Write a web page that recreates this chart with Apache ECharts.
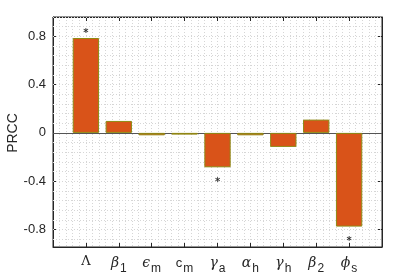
<!DOCTYPE html>
<html><head><meta charset="utf-8">
<script src="https://cdn.jsdelivr.net/npm/echarts@6/dist/echarts.min.js"></script>
<style>html,body{margin:0;padding:0;background:#fff}#c{width:407px;height:279px}</style>
</head><body><div id="c"></div>
<script>
// categories: [greek symbol, subscript]
var categories = ['Λ', 'β|1', 'ϵ|m', 'c|m', 'γ|a', 'α|h', 'γ|h', 'β|2', 'ϕ|s'];
var prccValues = [0.786, 0.099, -0.020, -0.014, -0.285, -0.020, -0.116, 0.110, -0.776];
var starValues = [0.847, null, null, null, -0.387, null, null, null, -0.872];
var yTickValues = [-0.8, -0.4, 0, 0.4, 0.8];
var yTickLabels = ['-0.8', '-0.4', '0', '0.4', '0.8'];
var yAxisTitle = 'PRCC';
var yMin = -0.945, yMax = 0.96;

var axisColor = '#262626';
var gridColor = '#d6d6d6';
var cats = [''].concat(categories).concat(['']);
var barData = [null].concat(prccValues).concat([null]);
var starData = [null].concat(starValues).concat([null]);
var minorY = [];
for (var k = -11; k <= 12; k++) minorY.push({yAxis: Math.round(k * 0.08 * 100) / 100});

function catLabel(v) {
  if (!v) return '';
  var p = v.split('|');
  if (p.length === 1) return '{u|' + p[0] + '}';
  if (p[0] === 'c') return '{c|c}{s|' + p[1] + '}';
  return '{g|' + p[0] + '}{s|' + p[1] + '}';
}

var chart = echarts.init(document.getElementById('c'), null, {renderer: 'canvas'});
chart.setOption({
  animation: false,
  backgroundColor: '#fff',
  graphic: [{type: 'text', x: 13, y: 133, rotation: Math.PI / 2,
    style: {text: yAxisTitle, fill: axisColor, font: '14px "Liberation Sans"', textAlign: 'center', textVerticalAlign: 'middle'}}],
  grid: {left: 53, right: 25, top: 17, bottom: 32, containLabel: false, outerBoundsMode: 'none',
         show: true, borderColor: axisColor, borderWidth: 1, backgroundColor: 'transparent'},
  xAxis: [
    {type: 'category', data: cats, boundaryGap: false, position: 'bottom',
     axisLine: {show: true, onZero: false, lineStyle: {color: axisColor, width: 1}},
     axisTick: {show: true, inside: true, length: 4, interval: 0, lineStyle: {color: axisColor}},
     splitLine: {show: false},
     axisLabel: {interval: 0, margin: 8, color: axisColor, formatter: catLabel,
       rich: {
         u: {fontFamily: 'DejaVu Serif', fontSize: 13, color: axisColor, padding: [0, 0, 4, 0]},
         g: {fontFamily: 'DejaVu Serif', fontStyle: 'italic', fontSize: 14, color: axisColor, padding: [0, 0, 4, 0]},
         c: {fontFamily: 'Liberation Sans', fontSize: 13, color: axisColor, padding: [0, 0, 4, 0]},
         s: {fontFamily: 'Liberation Sans', fontSize: 12, color: axisColor, padding: [8, 0, 0, 1]}
       }}},
    {type: 'category', data: cats, boundaryGap: false, position: 'top',
     axisLine: {show: true, onZero: false, lineStyle: {color: axisColor, width: 1}},
     axisTick: {show: true, inside: true, length: 4, interval: 0, lineStyle: {color: axisColor}},
     axisLabel: {show: false}, splitLine: {show: false}},
    {type: 'value', min: 0, max: 10, interval: 0.2, show: true, position: 'bottom',
     axisLine: {show: false, onZero: false}, axisTick: {show: false}, axisLabel: {show: false},
     splitLine: {show: true, lineStyle: {color: gridColor, type: [1, 2], width: 1}}}
  ],
  yAxis: [
    {type: 'value', min: yMin, max: yMax, position: 'left',
     axisLine: {show: true, onZero: false, lineStyle: {color: axisColor}},
     axisTick: {show: true, inside: true, length: 4, customValues: yTickValues, lineStyle: {color: axisColor}},
     axisLabel: {customValues: yTickValues, margin: 7, fontFamily: 'Liberation Sans', fontSize: 13, color: axisColor,
       formatter: function (v) { var i = yTickValues.indexOf(Math.round(v * 10) / 10); return i >= 0 ? yTickLabels[i] : ''; }},
     splitLine: {show: false}},
    {type: 'value', min: yMin, max: yMax, position: 'right',
     axisLine: {show: true, onZero: false, lineStyle: {color: axisColor}},
     axisTick: {show: true, inside: true, length: 4, customValues: yTickValues, lineStyle: {color: axisColor}},
     axisLabel: {show: false}, splitLine: {show: false}}
  ],
  series: [
    {type: 'line', xAxisIndex: 0, yAxisIndex: 0, data: [], z: 1,
     markLine: {symbol: 'none', silent: true, z: 1, label: {show: false},
      lineStyle: {color: gridColor, type: [1, 2], width: 1}, data: minorY}},
    {type: 'line', xAxisIndex: 1, yAxisIndex: 1, data: [], z: 1},
    {type: 'bar', xAxisIndex: 0, yAxisIndex: 0, data: barData, barWidth: '80%',
     itemStyle: {color: '#D95319', borderColor: '#8f8a14', borderWidth: 1}, z: 3},
    {type: 'scatter', xAxisIndex: 0, yAxisIndex: 0, data: starData, symbolSize: 0,
     label: {show: true, position: 'inside', formatter: '*', fontFamily: 'DejaVu Sans', fontSize: 10, fontWeight: 'bold', color: '#000', offset: [0, 3]}, z: 4},
    {type: 'line', xAxisIndex: 0, yAxisIndex: 0, data: [], z: 2, markLine: {symbol: 'none', silent: true, z: 2, label: {show: false},
      lineStyle: {color: '#555', type: 'solid', width: 1}, data: [{yAxis: 0}]}}
  ]
});
</script></body></html>
